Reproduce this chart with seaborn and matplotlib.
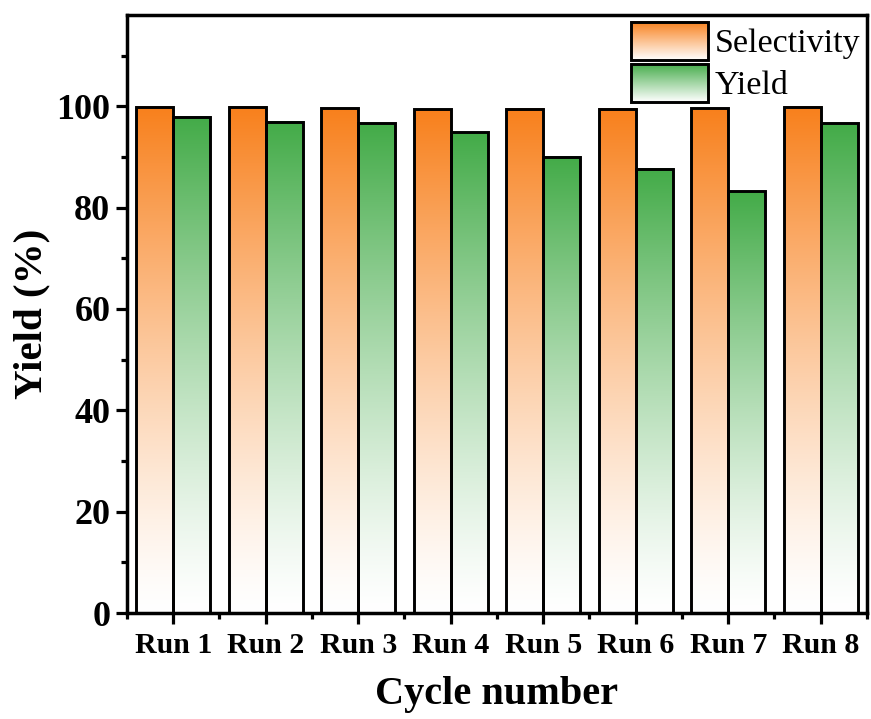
import numpy as np
import pandas as pd
import matplotlib
matplotlib.use("Agg")
import matplotlib.pyplot as plt
import seaborn as sns
from matplotlib.legend_handler import HandlerBase
from matplotlib.image import BboxImage
from matplotlib.transforms import Bbox, TransformedBbox
from matplotlib.patches import Rectangle
from matplotlib.ticker import MultipleLocator

# ---- data ----
runs = ["Run 1", "Run 2", "Run 3", "Run 4", "Run 5", "Run 6", "Run 7", "Run 8"]
selectivity = [99.9, 99.9, 99.6, 99.4, 99.5, 99.5, 99.6, 99.9]
yield_pct = [97.9, 97.0, 96.7, 94.9, 90.0, 87.7, 83.2, 96.7]
series_names = ["Selectivity", "Yield"]
series_colors = ["#F8801C", "#43AB48"]

df = pd.DataFrame({
    "run": runs * 2,
    "value": selectivity + yield_pct,
    "series": [series_names[0]] * len(runs) + [series_names[1]] * len(runs),
})

sns.set_style("ticks")
plt.rcParams["font.family"] = "serif"
plt.rcParams["font.serif"] = ["Liberation Serif", "Times New Roman", "DejaVu Serif"]
for key in ["text.color", "axes.labelcolor", "xtick.color", "ytick.color",
            "axes.edgecolor"]:
    plt.rcParams[key] = "black"

fig = plt.figure(figsize=(8.71, 7.19), dpi=100)
ax = fig.add_axes([0.1458, 0.1474, 0.8496, 0.8316])

sns.barplot(data=df, x="run", y="value", hue="series", hue_order=series_names,
            palette=series_colors, width=0.8, dodge=True, ax=ax,
            edgecolor="black", linewidth=2.1, legend=False, errorbar=None,
            saturation=1)


def gradient(color, n=256, power=1.3):
    rgb = np.array(matplotlib.colors.to_rgb(color))
    t = np.linspace(0, 1, n)[:, None] ** power
    arr = (1 - t) * np.ones(3) + t * rgb
    return arr[:, None, :]


# replace the flat fills with a white-to-colour vertical gradient
for container, color in zip(ax.containers, series_colors):
    grad = gradient(color)
    for bar in container:
        x0, w, h = bar.get_x(), bar.get_width(), bar.get_height()
        ax.imshow(grad, extent=[x0, x0 + w, 0, h], origin="lower",
                  aspect="auto", interpolation="bilinear", zorder=1.9)
        bar.set_facecolor("none")
        bar.set_zorder(2)

ax.set_xlim(-0.5, 7.5)
ax.set_ylim(0, 118)

# axes styling
for side in ["left", "right", "top", "bottom"]:
    ax.spines[side].set_visible(True)
    ax.spines[side].set_linewidth(2.5)
    ax.spines[side].set_color("black")

ax.set_yticks([0, 20, 40, 60, 80, 100])
ax.yaxis.set_minor_locator(MultipleLocator(10))
ax.xaxis.set_minor_locator(MultipleLocator(1, offset=0.5))
ax.tick_params(axis="both", which="major", direction="out", length=8,
               width=2.3, color="black", top=False, right=False)
ax.tick_params(axis="both", which="minor", direction="out", length=4.5,
               width=2.3, color="black", top=False, right=False)
ax.tick_params(axis="y", labelsize=26, pad=4)
ax.tick_params(axis="x", labelsize=21.5, pad=6)
for lbl in ax.get_xticklabels() + ax.get_yticklabels():
    lbl.set_fontweight("bold")

ax.set_xlabel("Cycle number", fontsize=29, fontweight="bold", labelpad=12)
ax.set_ylabel("Yield (%)", fontsize=29.5, fontweight="bold", labelpad=4)


class GradientHandler(HandlerBase):
    def __init__(self, color):
        super().__init__()
        self.color = color

    def create_artists(self, legend, orig_handle, xdescent, ydescent,
                       width, height, fontsize, trans):
        bb = Bbox.from_bounds(-xdescent, -ydescent, width, height)
        img = BboxImage(TransformedBbox(bb, trans), interpolation="bilinear")
        img.set_data(gradient(self.color, power=1.0)[::-1])
        frame = Rectangle((-xdescent, -ydescent), width, height,
                          facecolor="none", edgecolor="black", linewidth=2.1,
                          transform=trans)
        return [img, frame]


handles = [Rectangle((0, 0), 1, 1, label=n) for n in series_names]
ax.legend(handles=handles, labels=series_names,
          handler_map={h: GradientHandler(c) for h, c in zip(handles, series_colors)},
          loc="upper right", frameon=False, fontsize=24.5,
          handlelength=2.25, handleheight=1.35, labelspacing=0.1,
          handletextpad=0.2, borderaxespad=0.1, borderpad=0.1)

fig.savefig("out.png", dpi=100)
